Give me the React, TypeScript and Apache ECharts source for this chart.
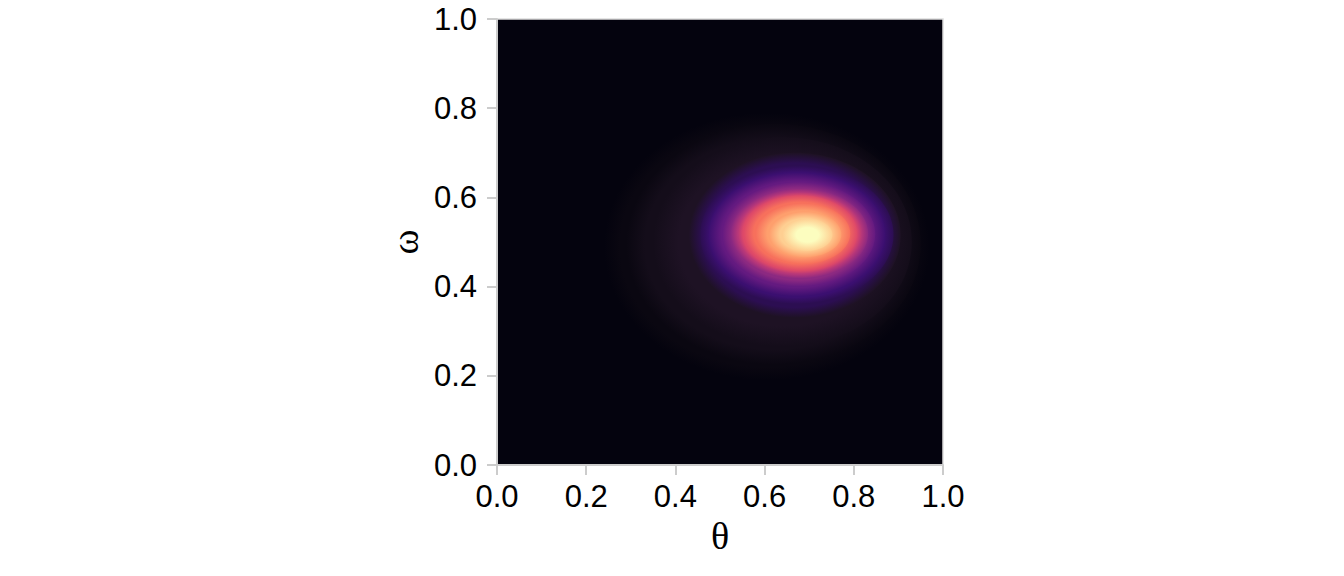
import React, { useEffect, useRef } from 'react';
import * as echarts from 'echarts';

// Axis ticks
const thetaTicks = [0, 0.2, 0.4, 0.6, 0.8, 1.0];
const omegaTicks = [0, 0.2, 0.4, 0.6, 0.8, 1.0];

// Density contour levels (density scaled so the peak = 1).
// For each level: the extent of the contour in θ and ω.
const levelDensity = [0.0, 0.04, 0.08, 0.12, 0.16, 0.2, 0.3, 0.4, 0.5, 0.6, 0.7, 0.8, 0.9];
const levelThetaMin = [0.24, 0.29, 0.35, 0.43, 0.456, 0.475, 0.505, 0.525, 0.54, 0.553, 0.58, 0.61, 0.64];
const levelThetaMax = [0.97, 0.95, 0.93, 0.905, 0.889, 0.87, 0.848, 0.832, 0.818, 0.807, 0.792, 0.772, 0.752];
const levelOmegaMin = [0.19, 0.225, 0.265, 0.33, 0.361, 0.378, 0.4, 0.418, 0.428, 0.436, 0.451, 0.466, 0.48];
const levelOmegaMax = [0.79, 0.765, 0.735, 0.7, 0.671, 0.656, 0.635, 0.62, 0.611, 0.604, 0.587, 0.568, 0.552];
const peakDensity = 1.0;

// Colour scale (magma-like, as seen in the picture)
const CMAP: [number, string][] = [
  [0, '#04030e'],
  [0.04, '#0a0711'],
  [0.08, '#140d1a'],
  [0.12, '#1e1224'],
  [0.16, '#2c0e52'],
  [0.2, '#3b0f70'],
  [0.3, '#641a80'],
  [0.4, '#8c2981'],
  [0.5, '#b73779'],
  [0.6, '#de4968'],
  [0.7, '#f7705c'],
  [0.8, '#fe9f6d'],
  [0.9, '#fecf92'],
  [1, '#fcfdbf'],
];

function hexToRgb(h: string): number[] {
  const n = parseInt(h.slice(1), 16);
  return [(n >> 16) & 255, (n >> 8) & 255, n & 255];
}

function colorOf(v: number): string {
  if (v <= CMAP[0][0]) return CMAP[0][1];
  for (let i = 1; i < CMAP.length; i++) {
    if (v <= CMAP[i][0]) {
      const [a, ca] = CMAP[i - 1];
      const [b, cb] = CMAP[i];
      const t = (v - a) / (b - a);
      const A = hexToRgb(ca);
      const B = hexToRgb(cb);
      const c = A.map((x, k) => Math.round(x + (B[k] - x) * t));
      return `rgb(${c[0]},${c[1]},${c[2]})`;
    }
  }
  return CMAP[CMAP.length - 1][1];
}

const LABEL_FONT = '"Liberation Sans", Arial, Helvetica, sans-serif';
const NAME_FONT = '"Liberation Serif", "Times New Roman", serif';

export default function App() {
  const ref = useRef<HTMLDivElement>(null);

  useEffect(() => {
    document.body.style.margin = '0';
    if (!ref.current) return;
    const chart = echarts.init(ref.current, null, { renderer: 'svg' });
    const n = levelDensity.length;
    const data = levelDensity.map((d, i) => [
      levelThetaMin[i],
      levelThetaMax[i],
      levelOmegaMin[i],
      levelOmegaMax[i],
      d,
    ]);

    const axisLineStyle = { color: '#cccccc', width: 2 };

    chart.setOption({
      animation: false,
      backgroundColor: '#ffffff',
      grid: {
        left: 497,
        top: 19,
        width: 446,
        height: 446,
        show: true,
        backgroundColor: colorOf(0),
        borderColor: '#dddddd',
        borderWidth: 1.5,
      },
      xAxis: {
        type: 'value',
        min: thetaTicks[0],
        max: thetaTicks[thetaTicks.length - 1],
        interval: 0.2,
        name: 'θ',
        nameLocation: 'middle',
        nameGap: 52,
        nameTextStyle: { fontFamily: NAME_FONT, fontSize: 38, color: '#000' },
        axisLine: { show: true, onZero: false, lineStyle: axisLineStyle },
        axisTick: { show: true, length: 10, lineStyle: axisLineStyle },
        axisLabel: {
          fontFamily: LABEL_FONT,
          fontSize: 31,
          color: '#000',
          margin: 16,
          formatter: (v: number) => v.toFixed(1),
        },
        splitLine: { show: false },
      },
      yAxis: {
        type: 'value',
        min: omegaTicks[0],
        max: omegaTicks[omegaTicks.length - 1],
        interval: 0.2,
        name: 'ω',
        nameLocation: 'middle',
        nameGap: 73,
        nameRotate: 90,
        nameTextStyle: { fontFamily: NAME_FONT, fontSize: 38, color: '#000' },
        axisLine: { show: true, onZero: false, lineStyle: axisLineStyle },
        axisTick: { show: true, length: 10, lineStyle: axisLineStyle },
        axisLabel: {
          fontFamily: LABEL_FONT,
          fontSize: 31,
          color: '#000',
          margin: 20,
          formatter: (v: number) => v.toFixed(1),
        },
        splitLine: { show: false },
      },
      series: [
        {
          type: 'custom',
          coordinateSystem: 'cartesian2d',
          silent: true,
          clip: true,
          encode: { x: [0, 1], y: [2, 3] },
          data,
          renderItem: (params: any, api: any) => {
            const i = params.dataIndex;
            const p0 = api.coord([api.value(0), api.value(3)]);
            const p1 = api.coord([api.value(1), api.value(2)]);
            const cx = (p0[0] + p1[0]) / 2;
            const cy = (p0[1] + p1[1]) / 2;
            const rx = Math.abs(p1[0] - p0[0]) / 2;
            const ry = Math.abs(p1[1] - p0[1]) / 2;
            const d = api.value(4);
            let stops;
            if (i < n - 1) {
              const wr = (levelThetaMax[i + 1] - levelThetaMin[i + 1]) / (levelThetaMax[i] - levelThetaMin[i]);
              const hr = (levelOmegaMax[i + 1] - levelOmegaMin[i + 1]) / (levelOmegaMax[i] - levelOmegaMin[i]);
              const r = (wr + hr) / 2;
              const inner = colorOf(levelDensity[i + 1]);
              stops = [
                { offset: 0, color: inner },
                { offset: r, color: inner },
                { offset: 1, color: colorOf(d) },
              ];
            } else {
              stops = [
                { offset: 0, color: colorOf(peakDensity) },
                { offset: 0.45, color: colorOf(peakDensity) },
                { offset: 1, color: colorOf(d) },
              ];
            }
            return {
              type: 'ellipse',
              shape: { cx, cy, rx, ry },
              style: { fill: new echarts.graphic.RadialGradient(0.5, 0.5, 0.5, stops) },
            };
          },
        },
      ],
    });
    return () => chart.dispose();
  }, []);

  return <div ref={ref} style={{ width: 1344, height: 576 }} />;
}
